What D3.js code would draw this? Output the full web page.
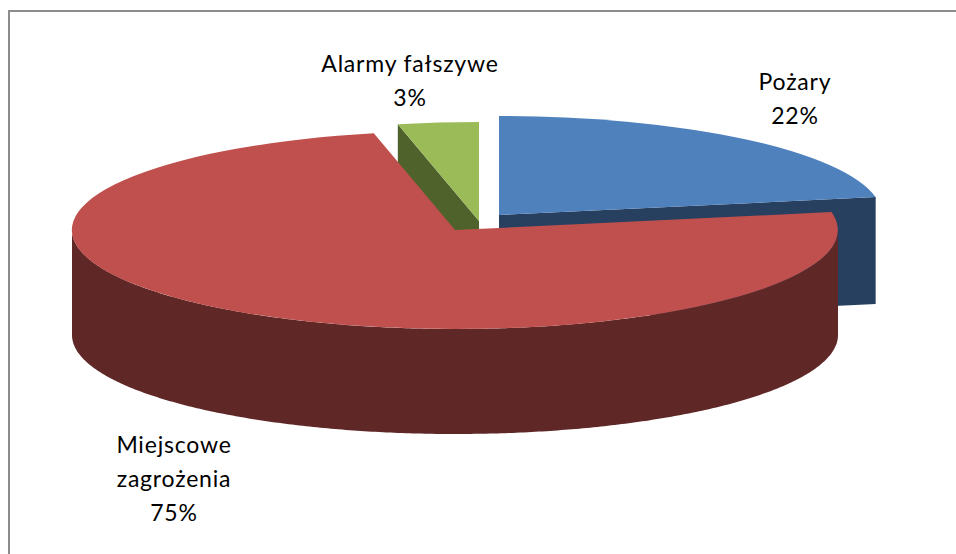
<!DOCTYPE html>
<html>
<head>
<meta charset="utf-8">
<script src="https://cdn.jsdelivr.net/npm/d3@7"></script>
<style>html,body{margin:0;padding:0;background:#fff}svg{display:block}</style>
</head>
<body>
<svg id="c" width="956" height="554"></svg>
<script>
const categories = ["Pożary", "Miejscowe zagrożenia", "Alarmy fałszywe"];
const values = [22.1, 74.5, 3.4];
const topColors = ["#4F81BD", "#C0504D", "#9BBB59"];
const sideColors = ["#27405F", "#5F2827", "#50622C"];
const labelLines = [["Pożary"], ["Miejscowe", "zagrożenia"], ["Alarmy fałszywe"]];

const rx = 383, ry = 99;
const depths = [107, 105, 105];
const centers = [[499, 215], [455, 230], [479, 221]];
const labelPos = [[795, 90], [174, 453], [410, 72]];

const svg = d3.select("#c");
svg.append("rect").attr("x", 9).attr("y", 11).attr("width", 970).attr("height", 560)
  .attr("fill", "#fff").attr("stroke", "#8c8c8c").attr("stroke-width", 2);

const arcs = d3.pie().sort(null).value(d => d)(values);
const X = d3.scaleLinear().domain([-1, 1]).range([-rx, rx]);
const Y = d3.scaleLinear().domain([-1, 1]).range([-ry, ry]);
const px = (i, a) => centers[i][0] + X(Math.sin(a));
const py = (i, a) => centers[i][1] + Y(-Math.cos(a));
const arcGen = d3.arc().innerRadius(0).outerRadius(1);
const poly = d3.line();

function cutFace(i, a) {
  const [cx, cy] = centers[i];
  const h = depths[i];
  return poly([[cx, cy], [px(i, a), py(i, a)], [px(i, a), py(i, a) + h], [cx, cy + h]]) + "Z";
}

// painter's order: back slices first, the large front slice last
[2, 0, 1].forEach(i => {
  const d = arcs[i];
  const g = svg.append("g");
  if (i === 0) g.append("path").attr("d", cutFace(i, d.endAngle)).attr("fill", sideColors[i]);
  if (i === 2) g.append("path").attr("d", cutFace(i, d.startAngle)).attr("fill", sideColors[i]);
  const a0 = Math.max(d.startAngle, Math.PI / 2), a1 = Math.min(d.endAngle, 3 * Math.PI / 2);
  if (a1 > a0) {
    const steps = d3.range(a0, a1, 0.01).concat([a1]);
    g.append("path")
      .attr("d", d3.area().x(a => px(i, a)).y0(a => py(i, a)).y1(a => py(i, a) + depths[i])(steps))
      .attr("fill", sideColors[i]);
  }
  g.append("path")
    .attr("transform", `translate(${centers[i][0]},${centers[i][1]}) scale(${rx},${ry})`)
    .attr("d", arcGen(d))
    .attr("fill", topColors[i]);
});

categories.forEach((c, i) => {
  const lines = labelLines[i].concat([d3.format(".0f")(values[i]) + "%"]);
  const t = svg.append("text")
    .attr("text-anchor", "middle")
    .attr("font-family", "Lato, Carlito, sans-serif")
    .attr("font-size", 23)
    .attr("letter-spacing", 0.8)
    .attr("fill", "#000");
  lines.forEach((l, k) => t.append("tspan")
    .attr("x", labelPos[i][0]).attr("y", labelPos[i][1] + k * 34).text(l));
});
</script>
</body>
</html>
